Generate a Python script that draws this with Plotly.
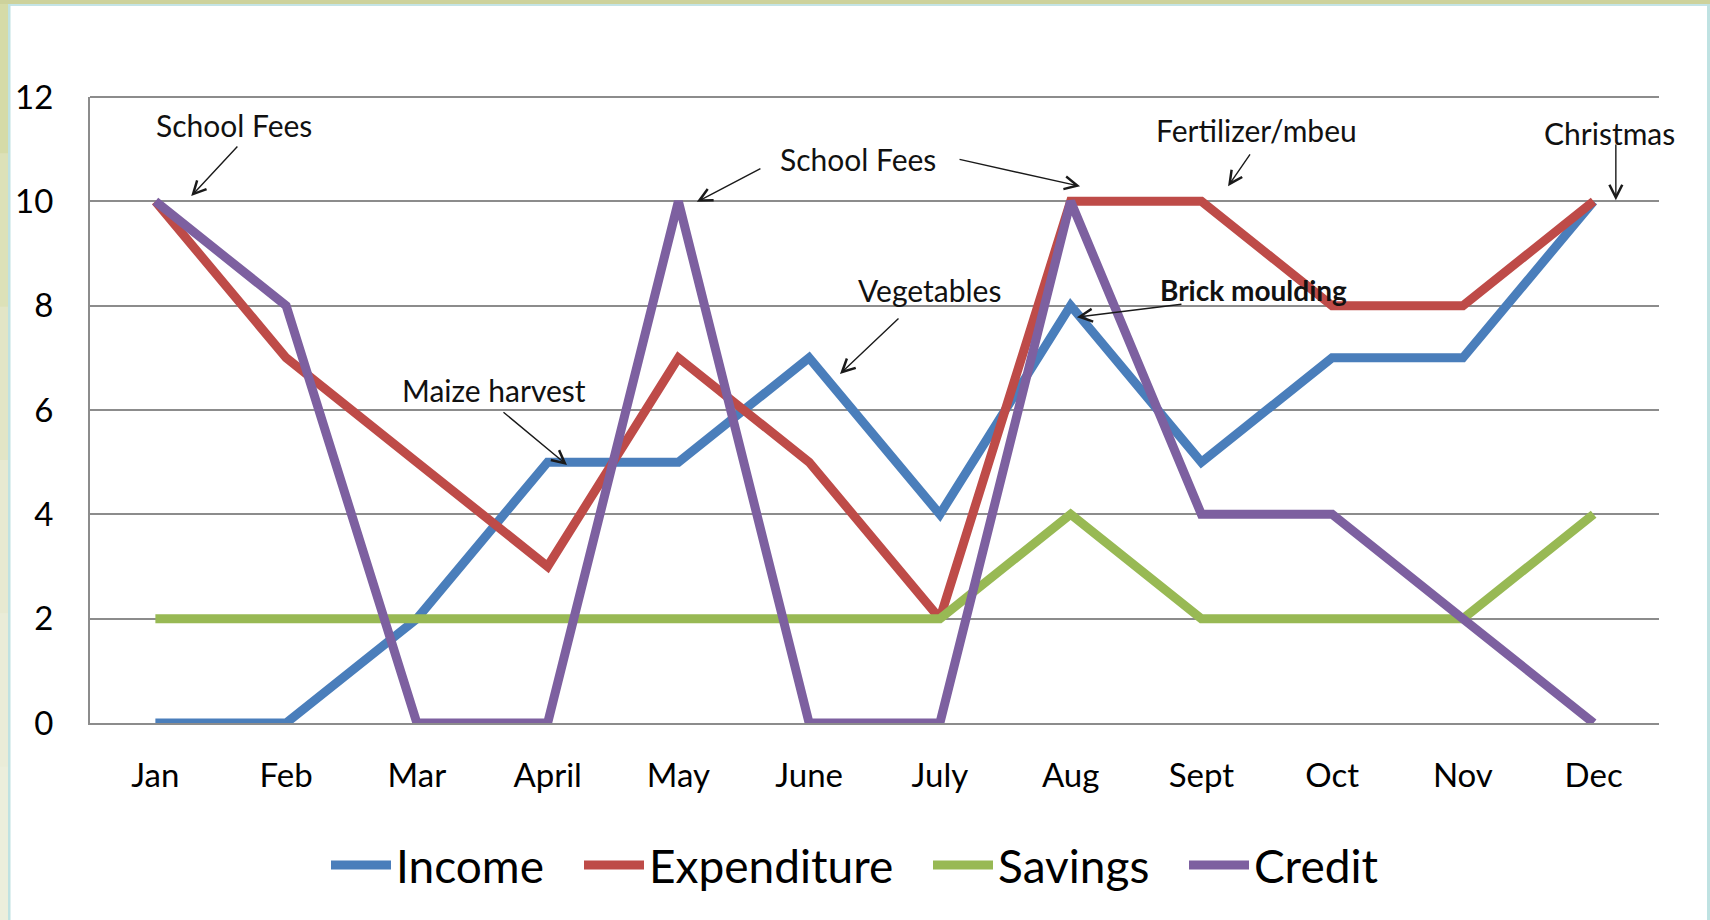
import plotly.graph_objects as go

months = ["Jan", "Feb", "Mar", "April", "May", "June", "July", "Aug", "Sept", "Oct", "Nov", "Dec"]
income = [0, 0, 2, 5, 5, 7, 4, 8, 5, 7, 7, 10]
expenditure = [10, 7, 5, 3, 7, 5, 2, 10, 10, 8, 8, 10]
savings = [2, 2, 2, 2, 2, 2, 2, 4, 2, 2, 2, 4]
credit = [10, 8, 0, 0, 10, 0, 0, 10, 4, 4, 2, 0]
y_ticks = [0, 2, 4, 6, 8, 10, 12]

series = [
    ("Income", income, "#4A7EBB"),
    ("Expenditure", expenditure, "#BE4B48"),
    ("Savings", savings, "#98B954"),
    ("Credit", credit, "#7D60A0"),
]
legend_left_px = [326, 579, 928, 1184]  # legend box positions

W, H = 1710, 920
L, R, T, B = 90, 1659, 97, 723  # plot area pixel edges

def px(x):
    return (x - L) / (R - L)

def py(y):
    return (B - y) / (B - T)

FONT = "Lato, 'Noto Sans', sans-serif"

fig = go.Figure()
x_idx = list(range(len(months)))
legend_cfg = {}
for i, (name, vals, col) in enumerate(series):
    lname = "legend" if i == 0 else "legend%d" % (i + 1)
    fig.add_trace(go.Scatter(
        x=x_idx, y=vals, name=name, mode="lines",
        line=dict(color=col, width=9),
        hoverinfo="skip", legend=lname,
    ))
    legend_cfg[lname] = dict(
        x=px(legend_left_px[i]), y=py(865), xanchor="left", yanchor="middle",
        font=dict(family=FONT, size=46, color="#000000"),
        itemwidth=60, bgcolor="rgba(0,0,0,0)", borderwidth=0,
    )

texts = [
    ("School Fees", 0.60, 11.46, False),
    ("School Fees", 5.37, 10.81, False),
    ("Vegetables", 5.92, 8.30, False),
    ("Maize harvest", 2.59, 6.38, False),
    ("Fertilizer/mbeu", 8.42, 11.37, False),
    ("Christmas", 11.12, 11.31, False),
    ("Brick moulding", 8.40, 8.30, True),
]
arrows = [
    (0.274, 10.10, 0.638, 11.08),
    (4.141, 9.99, 4.639, 10.64),
    (7.072, 10.29, 6.139, 10.81),
    (5.236, 6.69, 5.695, 7.78),
    (3.148, 4.945, 2.651, 5.98),
    (8.204, 10.29, 8.380, 10.93),
    (11.17, 10.02, 11.17, 11.12),
    (7.048, 7.78, 7.859, 8.03),
]

annotations = []
for txt, x, y, bold in texts:
    annotations.append(dict(
        x=x, y=y, xref="x", yref="y", text=("<b>%s</b>" % txt) if bold else txt,
        showarrow=False, xanchor="center", yanchor="middle",
        font=dict(family=FONT, size=28 if bold else 30, color="#111111"),
    ))
for hx, hy, tx, ty in arrows:
    annotations.append(dict(
        x=hx, y=hy, ax=tx, ay=ty, xref="x", yref="y", axref="x", ayref="y",
        text="", showarrow=True, arrowhead=5, arrowsize=1.8, arrowwidth=1.4,
        arrowcolor="#1a1a1a", standoff=0, startstandoff=0,
    ))

shapes = []
def rect(x0, y0, x1, y1, color):
    shapes.append(dict(type="rect", xref="paper", yref="paper",
                       x0=px(x0), x1=px(x1), y0=py(y0), y1=py(y1),
                       fillcolor=color, line=dict(width=0), layer="below"))

left_cols = ["#D5DBA8", "#DCE1B8", "#E2E5C6", "#E7E9D1", "#EAECD8", "#ECEEDC"]
band = H / len(left_cols)
for i, c in enumerate(left_cols):
    rect(0, i * band, 8, (i + 1) * band + 1, c)
rect(0, 0, W, 4, "#CDD29C")
rect(8, 4, W, 6, "#C4E4E6")
rect(8, 4, 10.5, H, "#BFE2E2")
rect(1707, 4, W, H, "#BFE2E2")
shapes.append(dict(type="line", xref="paper", yref="paper", x0=0, x1=1, y0=1, y1=1,
                   line=dict(color="#8C8C8C", width=2), layer="below"))

fig.update_layout(
    width=W, height=H,
    margin=dict(l=L, r=W - R, t=T, b=H - B, autoexpand=False),
    paper_bgcolor="white", plot_bgcolor="white",
    showlegend=True,
    xaxis=dict(
        range=[-0.5, 11.5], tickmode="array", tickvals=x_idx, ticktext=months,
        showgrid=False, zeroline=False, showline=True, linecolor="#8C8C8C", linewidth=2,
        ticks="", tickfont=dict(family=FONT, size=33, color="#000000"),
        ticklabelstandoff=22, fixedrange=True,
    ),
    yaxis=dict(
        range=[0, 12], tickmode="array", tickvals=y_ticks,
        showgrid=True, gridcolor="#8C8C8C", gridwidth=2,
        zeroline=False, showline=True, linecolor="#8C8C8C", linewidth=2,
        ticks="", tickfont=dict(family=FONT, size=33, color="#000000"),
        ticklabelstandoff=28, fixedrange=True,
    ),
    annotations=annotations,
    shapes=shapes,
    **legend_cfg,
)

fig.write_html("out.html", config={"displayModeBar": False},
               post_script="document.body.style.margin='0';document.body.style.overflow='hidden';")
